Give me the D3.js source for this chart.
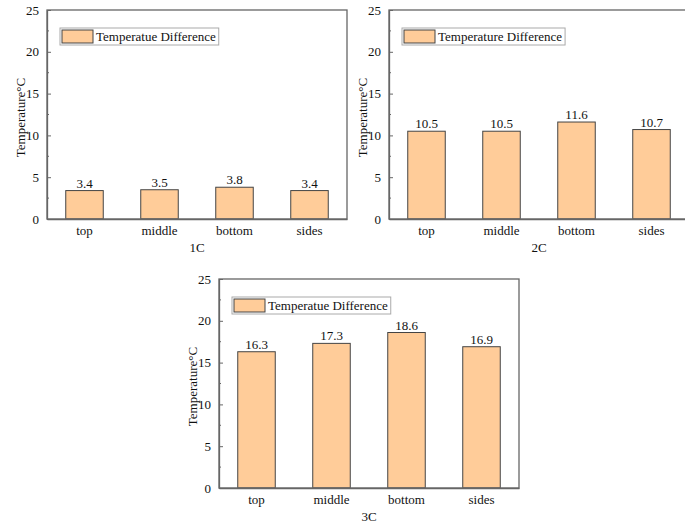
<!DOCTYPE html>
<html lang="en">
<head>
  <meta charset="UTF-8">
  <title>Temperature Difference</title>
  <script src="https://d3js.org/d3.v7.min.js"></script>
  <style>
    body { margin: 0; background: #fff; }
    svg text { font-family: "Liberation Serif", "Times New Roman", serif; }
  </style>
</head>
<body>
<svg></svg>
<script>
  // data
  const categories = ['top', 'middle', 'bottom', 'sides']
  const values1C = [3.4, 3.5, 3.8, 3.4]
  const values2C = [10.5, 10.5, 11.6, 10.7]
  const values3C = [16.3, 17.3, 18.6, 16.9]
  const yTicks = [0, 5, 10, 15, 20, 25]
  const yMinorTicks = [2.5, 7.5, 12.5, 17.5, 22.5]
  const panelTitles = ['1C', '2C', '3C']
  const legendLabels = ['Temperatue Difference', 'Temperature Difference', 'Temperatue Difference']
  const yTitle = 'Temperature°C'

  const width = 685, height = 530
  const pw = 300, ph = 209
  const barFill = '#FFCC99'
  const ink = '#111'

  const svg = d3.select('svg')
      .attr('width', width)
      .attr('height', height)

  const panels = [
    {left: 47, top: 10, values: values1C, title: panelTitles[0], legend: legendLabels[0]},
    {left: 389, top: 10, values: values2C, title: panelTitles[1], legend: legendLabels[1]},
    {left: 219, top: 279, values: values3C, title: panelTitles[2], legend: legendLabels[2]}
  ]

  panels.forEach(p => {
    const g = svg.append('g').attr('transform', `translate(${p.left},${p.top})`)

    const x = d3.scaleBand()
        .domain(categories)
        .range([0, pw])
        .paddingInner(0.5)
        .paddingOuter(0.25)

    const y = d3.scaleLinear()
        .domain([0, 25])
        .range([ph, 0])

    // bars
    g.selectAll('rect.bar')
        .data(p.values)
        .join('rect')
        .attr('class', 'bar')
        .attr('x', (d, i) => x(categories[i]))
        .attr('y', d => y(d))
        .attr('width', x.bandwidth())
        .attr('height', d => y(0) - y(d))
        .attr('fill', barFill)
        .attr('stroke', '#444')
        .attr('stroke-width', 1)

    // value labels
    g.selectAll('text.val')
        .data(p.values)
        .join('text')
        .attr('class', 'val')
        .attr('x', (d, i) => x(categories[i]) + x.bandwidth() / 2)
        .attr('y', d => y(d) - 3)
        .attr('text-anchor', 'middle')
        .style('font-size', '13px')
        .attr('fill', ink)
        .text(d => d.toFixed(1))

    // frame
    g.append('rect')
        .attr('width', pw)
        .attr('height', ph)
        .attr('fill', 'none')
        .attr('stroke', '#666')
        .attr('stroke-width', 1.3)

    // y axis (ticks inward)
    const yAxis = g.append('g')
        .call(d3.axisLeft(y).tickValues(yTicks).tickSize(-4).tickPadding(8).tickSizeOuter(0))
    yAxis.attr('font-family', null).attr('font-size', null)
    yAxis.select('.domain').attr('stroke', '#666').attr('stroke-width', 1.3)
    yAxis.selectAll('.tick line').attr('stroke', '#666')
    yAxis.selectAll('.tick text')
        .style('font-size', '13px')
        .attr('fill', ink)

    g.append('g')
        .selectAll('line')
        .data(yMinorTicks)
        .join('line')
        .attr('x1', 0)
        .attr('x2', 2)
        .attr('y1', d => y(d))
        .attr('y2', d => y(d))
        .attr('stroke', '#666')

    // x axis
    const xAxis = g.append('g')
        .attr('transform', `translate(0,${ph})`)
        .call(d3.axisBottom(x).tickSize(0).tickPadding(7).tickSizeOuter(0))
    xAxis.attr('font-family', null).attr('font-size', null)
    xAxis.select('.domain').attr('stroke', '#666').attr('stroke-width', 1.3)
    xAxis.selectAll('.tick text')
        .style('font-size', '13px')
        .attr('fill', ink)

    // x title
    g.append('text')
        .attr('x', pw / 2)
        .attr('y', ph + 33)
        .attr('text-anchor', 'middle')
        .style('font-size', '13px')
        .attr('fill', ink)
        .text(p.title)

    // y title
    g.append('text')
        .attr('transform', `translate(-22,${ph / 2 + 3}) rotate(-90)`)
        .attr('text-anchor', 'middle')
        .style('font-size', '13px')
        .attr('fill', ink)
        .text(yTitle)

    // legend
    const lg = g.append('g').attr('transform', 'translate(13,18)')
    const lt = lg.append('text')
        .attr('x', 36)
        .attr('y', 12.5)
        .style('font-size', '13px')
        .attr('fill', ink)
        .text(p.legend)
    const tw = lt.node().getComputedTextLength()
    lg.insert('rect', 'text')
        .attr('width', 36 + tw + 3)
        .attr('height', 17)
        .attr('fill', '#fff')
        .attr('stroke', '#aaa')
    lg.append('rect')
        .attr('x', 2)
        .attr('y', 2)
        .attr('width', 31)
        .attr('height', 13)
        .attr('fill', barFill)
        .attr('stroke', '#444')
  })
</script>
</body>
</html>
